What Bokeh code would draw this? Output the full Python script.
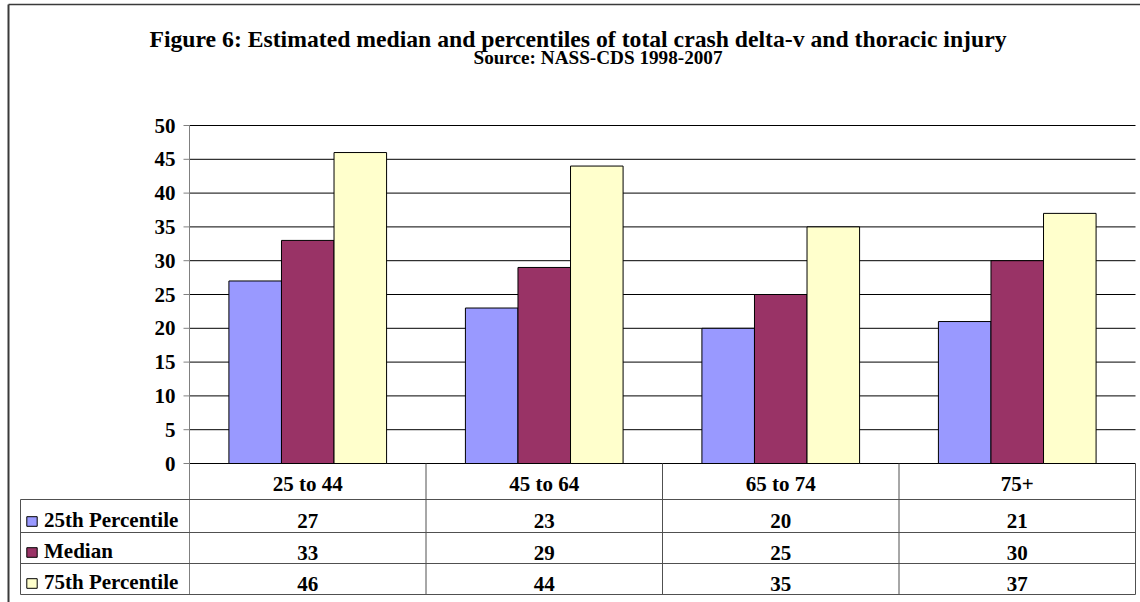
import numpy as np
from bokeh.plotting import figure
from bokeh.models import (Range1d, ColumnDataSource, Legend, LegendItem, Label)
from bokeh.core.properties import value
from bokeh.embed import file_html
from bokeh.resources import INLINE

# ---------------- data ----------------
categories = ["25 to 44", "45 to 64", "65 to 74", "75+"]
series_names = ["25th Percentile", "Median", "75th Percentile"]
p25 = [27, 23, 20, 21]
median = [33, 29, 25, 30]
p75 = [46, 44, 35, 37]
y_ticks = [0, 5, 10, 15, 20, 25, 30, 35, 40, 45, 50]
title_text = "Figure 6: Estimated median and percentiles of total crash delta-v and thoracic injury"
subtitle_text = "Source: NASS-CDS 1998-2007"

# ---------------- style / layout (pixels) ----------------
colors = ["#9999FF", "#993366", "#FFFFCC"]
FONT = "Liberation Serif"
W, H = 1140, 602
AXIS_X_PX, PLOT_R_PX = 189, 1135      # plot area left / right
ZERO_PX, TOP_PX = 463, 125            # y=0 and y=50 positions
TABLE_LEFT_PX = 20
row_bounds_px = [0, 36, 69, 100, 131]        # table row boundaries below the zero line
row_text_px = [20, 57.5, 89.5, 120.5]        # text centre of each table row below zero line
GRID = "#000000"
TABLE_LINE = "#505050"
AXIS_LINE = "#808080"
BORDER = "#3a3a3a"

PX_PER_X = (PLOT_R_PX - AXIS_X_PX) / len(categories)
PX_PER_Y = (ZERO_PX - TOP_PX) / 50.0

def xd(px):
    return (px - AXIS_X_PX) / PX_PER_X

def yd(px):
    return (ZERO_PX - px) / PX_PER_Y

p = figure(width=W, height=H, x_range=Range1d(xd(0), xd(W)), y_range=Range1d(yd(H), yd(0)),
           output_backend="svg", toolbar_location=None, title=None, min_border=0,
           x_axis_location=None, y_axis_location=None)
p.extra_x_ranges = {"px": Range1d(0, W)}
p.extra_y_ranges = {"py": Range1d(H, 0)}
p.outline_line_color = None
p.grid.visible = False
p.background_fill_color = "white"

ncol = len(categories)
y_top = y_ticks[-1]
y_bottom = yd(ZERO_PX + row_bounds_px[-1])

# chart-area border (left and top edges)
p.segment(x0=[8], x1=[8], y0=[4], y1=[H + 10], line_color=BORDER, line_width=2,
          x_range_name="px", y_range_name="py")
p.segment(x0=[8], x1=[W + 10], y0=[4], y1=[4], line_color=BORDER, line_width=1.5,
          x_range_name="px", y_range_name="py")

# gridlines
p.segment(x0=[0] * len(y_ticks), x1=[ncol] * len(y_ticks), y0=y_ticks, y1=y_ticks,
          line_color=GRID, line_width=1)

# bars
BAR_W = 1 / 4.5
xc = np.arange(ncol) + 0.5
series = [p25, median, p75]
renderers = []
for k, (name, vals, col) in enumerate(zip(series_names, series, colors)):
    src = ColumnDataSource(dict(x=xc + (k - 1) * BAR_W, top=vals))
    r = p.vbar(x="x", top="top", bottom=0, width=BAR_W, source=src,
               fill_color=col, line_color="#000000", line_width=1)
    renderers.append(r)

# value axis: line, ticks, labels
p.segment(x0=[0], x1=[0], y0=[y_top], y1=[y_bottom], line_color=AXIS_LINE, line_width=1)
p.segment(x0=[xd(AXIS_X_PX - 6)] * len(y_ticks), x1=[0] * len(y_ticks), y0=y_ticks, y1=y_ticks,
          line_color=AXIS_LINE, line_width=1)
p.text(x=[0] * len(y_ticks), y=y_ticks, text=[str(t) for t in y_ticks], x_offset=-14,
       text_font=value(FONT), text_font_style="bold", text_font_size="21px",
       text_align="right", text_baseline="middle", text_color="#000000")

# data table
left_x = xd(TABLE_LEFT_PX)
hb = [yd(ZERO_PX + b) for b in row_bounds_px]
p.segment(x0=[left_x] * (len(hb) - 1), x1=[ncol] * (len(hb) - 1), y0=hb[1:], y1=hb[1:],
          line_color=TABLE_LINE, line_width=1)
p.segment(x0=list(range(1, ncol + 1)), x1=list(range(1, ncol + 1)),
          y0=[0] * ncol, y1=[hb[-1]] * ncol, line_color=TABLE_LINE, line_width=1)
p.segment(x0=[left_x], x1=[left_x], y0=[hb[1]], y1=[hb[-1]], line_color=TABLE_LINE, line_width=1)

p.text(x=xc, y=[yd(ZERO_PX + row_text_px[0])] * ncol, text=categories,
       text_font=value(FONT), text_font_style="bold", text_font_size="21px",
       text_align="center", text_baseline="middle", text_color="#000000")
for i, vals in enumerate(series):
    p.text(x=xc, y=[yd(ZERO_PX + row_text_px[i + 1])] * ncol, text=[str(v) for v in vals],
           text_font=value(FONT), text_font_style="bold", text_font_size="21px",
           text_align="center", text_baseline="middle", text_color="#000000")

legend = Legend(items=[LegendItem(label=n, renderers=[r]) for n, r in zip(series_names, renderers)],
                location=(25, 7), orientation="vertical",
                background_fill_alpha=0, border_line_color=None, padding=0, margin=0,
                spacing=6, glyph_width=13, glyph_height=12, label_standoff=6, label_height=12,
                label_text_font=FONT, label_text_font_style="bold", label_text_font_size="21px",
                label_text_color="#000000")
p.add_layout(legend)

# titles
p.add_layout(Label(x=577.5, y=H - 38.5, x_units="screen", y_units="screen",
                   text=title_text, text_align="center", text_baseline="middle",
                   text_font=FONT, text_font_style="bold", text_font_size="23.7px", text_color="#000000"))
p.add_layout(Label(x=597.5, y=H - 57, x_units="screen", y_units="screen",
                   text=subtitle_text, text_align="center", text_baseline="middle",
                   text_font=FONT, text_font_style="bold", text_font_size="19.2px", text_color="#000000"))

open("out.html", "w").write(file_html(p, INLINE))
